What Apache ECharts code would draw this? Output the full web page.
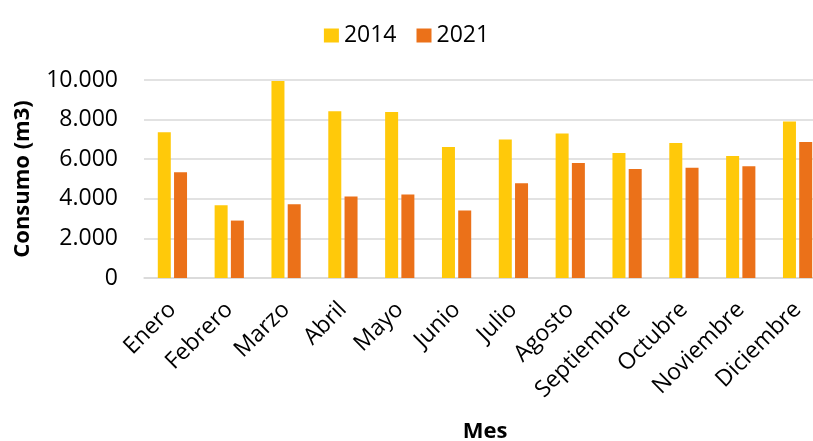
<!DOCTYPE html>
<html>
<head>
<meta charset="utf-8">
<script src="https://cdn.jsdelivr.net/npm/echarts@6/dist/echarts.min.js"></script>
<style>
  html, body { margin: 0; padding: 0; background: #fff; }
  #chart { width: 813px; height: 441px; }
</style>
</head>
<body>
<div id="chart"></div>
<script>
// datos del gráfico
const meses = ['Enero', 'Febrero', 'Marzo', 'Abril', 'Mayo', 'Junio', 'Julio',
  'Agosto', 'Septiembre', 'Octubre', 'Noviembre', 'Diciembre']
const consumo2014 = [7360, 3670, 9950, 8420, 8380, 6620, 7000, 7300, 6310, 6820, 6160, 7900]
const consumo2021 = [5340, 2900, 3720, 4120, 4220, 3410, 4780, 5810, 5500, 5570, 5640, 6870]
const yTicks = [0, 2000, 4000, 6000, 8000, 10000]

const font = '"Open Sans", sans-serif'

// separador de miles con punto
const formatMiles = v => String(v).replace(/\B(?=(\d{3})+(?!\d))/g, '.')

const chart = echarts.init(document.getElementById('chart'))

const option = {
  animation: false,
  textStyle: { fontFamily: font, color: '#000' },
  legend: {
    top: 19,
    left: 'center',
    itemWidth: 15,
    itemHeight: 14,
    itemGap: 20,
    icon: 'rect',
    textStyle: { fontSize: 23, color: '#000', fontFamily: font },
    data: ['2014', '2021']
  },
  grid: {
    left: 144,
    top: 80,
    width: 682,
    height: 198,
    containLabel: false,
    outerBoundsMode: 'none'
  },
  xAxis: {
    type: 'category',
    data: meses,
    name: 'Mes',
    nameLocation: 'middle',
    nameGap: 143,
    nameTextStyle: { fontSize: 22, fontWeight: 'bold', color: '#000' },
    axisTick: { show: false },
    axisLine: { lineStyle: { color: '#D9D9D9', width: 1.5 } },
    axisLabel: {
      rotate: 45,
      interval: 0,
      margin: 28,
      fontSize: 23,
      color: '#000'
    }
  },
  yAxis: {
    type: 'value',
    min: yTicks[0],
    max: yTicks[yTicks.length - 1],
    interval: 2000,
    name: 'Consumo (m3)',
    nameLocation: 'middle',
    nameGap: 110,
    nameTextStyle: { fontSize: 22, fontWeight: 'bold', color: '#000' },
    axisLine: { show: false },
    axisTick: { show: false },
    axisLabel: {
      margin: 26,
      fontSize: 23,
      color: '#000',
      formatter: formatMiles
    },
    splitLine: { lineStyle: { color: '#D9D9D9', width: 1.5 } }
  },
  series: [
    {
      name: '2014',
      type: 'bar',
      data: consumo2014,
      barWidth: 13,
      barGap: '25%',
      itemStyle: { color: '#FFC90A' }
    },
    {
      name: '2021',
      type: 'bar',
      data: consumo2021,
      barWidth: 13,
      itemStyle: { color: '#EB7119' }
    }
  ]
}

chart.setOption(option)
</script>
</body>
</html>
